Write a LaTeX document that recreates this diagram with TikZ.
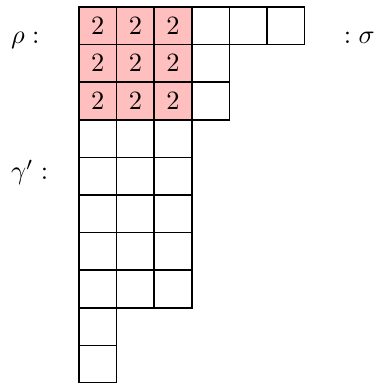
\documentclass[tikz,border=0pt]{standalone}
\usetikzlibrary{positioning}

\begin{document}
\begin{tikzpicture}[cell/.style={draw, rectangle, minimum size=0.5cm, inner sep=0pt, outer sep=0pt, semithick},
                    lbl/.style={inner sep=0pt}]
            \useasboundingbox (-1.05,0.093) rectangle (3.99,-5.0);

            % shaded block of 2s
            \foreach \r in {1,2,3}
              \foreach \c in {1,2,3}
                \node (c-\r-\c) [cell, fill=red!25] at (\c*0.5-0.25, -\r*0.5+0.25) {$2$};

            % remaining boxes, row by row
            \foreach \from/\len [count=\r] in {4/6,4/4,4/4,1/3,1/3,1/3,1/3,1/3,1/1,1/1}
              \foreach \c in {\from,...,\len}
                \node (c-\r-\c) [cell] at (\c*0.5-0.25, -\r*0.5+0.25) {};

            \node (rho) [lbl, anchor=base west] at (-0.91,-0.49) {$\rho :$};
            \node (sigma) [lbl, anchor=base east] at (3.94,-0.48) {$: \sigma$};
            \node (gamma) [lbl, anchor=base west] at (-0.91,-2.30) {$\gamma' :$};
        \end{tikzpicture}
\end{document}
